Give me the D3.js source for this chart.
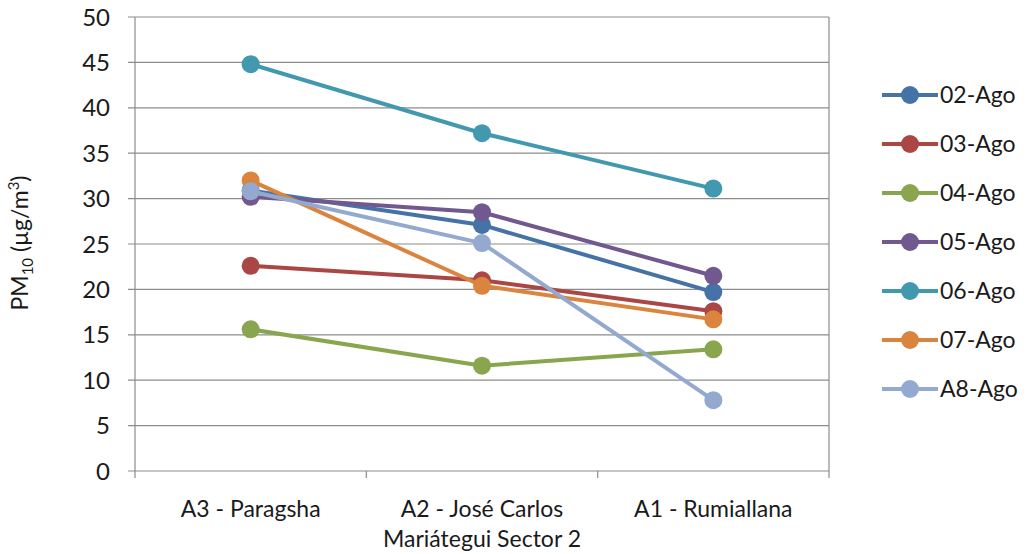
<!DOCTYPE html>
<html>
<head>
<meta charset="utf-8">
<script src="https://cdn.jsdelivr.net/npm/d3@7"></script>
<style>
  body { margin: 0; background: #fff; }
  text { font-family: Lato, "Open Sans", sans-serif; fill: #1a1a1a; }
</style>
</head>
<body>
<svg class="chart"></svg>
<script>
const sites = ['A3 - Paragsha', 'A2 - José Carlos Mariátegui Sector 2', 'A1 - Rumiallana'];
const siteLines = [['A3 - Paragsha'], ['A2 - José Carlos', 'Mariátegui Sector 2'], ['A1 - Rumiallana']];
const seriesNames = ['02-Ago', '03-Ago', '04-Ago', '05-Ago', '06-Ago', '07-Ago', 'A8-Ago'];
const seriesColors = ['#4572A7', '#AA4643', '#89A54E', '#71588F', '#4198AF', '#DB843D', '#93A9CF'];
const ago02 = [30.9, 27.1, 19.7];
const ago03 = [22.6, 21.0, 17.6];
const ago04 = [15.6, 11.6, 13.4];
const ago05 = [30.2, 28.5, 21.5];
const ago06 = [44.8, 37.2, 31.1];
const ago07 = [32.0, 20.4, 16.7];
const ago08 = [30.8, 25.1, 7.8];
const yTicks = [0, 5, 10, 15, 20, 25, 30, 35, 40, 45, 50];

const allValues = [ago02, ago03, ago04, ago05, ago06, ago07, ago08];
const data = seriesNames.map((name, i) => ({
  name: name,
  color: seriesColors[i],
  values: allValues[i].map((v, j) => ({site: sites[j], value: v}))
}));

const width = 1029;
const height = 554;
const margin = {top: 17, right: 200, bottom: 83, left: 135};
const plotW = 829 - margin.left;
const plotH = 471 - margin.top;

const chart = d3.select('.chart')
  .attr('width', width)
  .attr('height', height);

const g = chart.append('g').attr('transform', 'translate(' + margin.left + ',' + margin.top + ')');

const x = d3.scaleBand().domain(sites).range([0, plotW]);
const y = d3.scaleLinear().domain([0, 50]).range([plotH, 0]);

// gridlines
g.append('g')
  .selectAll('line')
  .data(yTicks)
  .join('line')
  .attr('x1', -7)
  .attr('x2', plotW)
  .attr('y1', d => y(d))
  .attr('y2', d => y(d))
  .attr('stroke', '#8c8c8c')
  .attr('stroke-width', 1.2);

// y tick labels
g.append('g')
  .selectAll('text')
  .data(yTicks)
  .join('text')
  .attr('x', -25)
  .attr('y', d => y(d))
  .attr('dy', '0.36em')
  .attr('text-anchor', 'end')
  .style('font-size', '24px')
  .text(d => d);

// left axis line and right border
g.append('line').attr('x1', 0).attr('x2', 0).attr('y1', 0).attr('y2', plotH + 7)
  .attr('stroke', '#8c8c8c').attr('stroke-width', 1.2);
g.append('line').attr('x1', plotW).attr('x2', plotW).attr('y1', 0).attr('y2', plotH + 7)
  .attr('stroke', '#8c8c8c').attr('stroke-width', 1.2);

// category ticks
g.append('g')
  .selectAll('line')
  .data(sites.slice(1))
  .join('line')
  .attr('x1', d => x(d))
  .attr('x2', d => x(d))
  .attr('y1', plotH)
  .attr('y2', plotH + 7)
  .attr('stroke', '#8c8c8c')
  .attr('stroke-width', 1.2);

// category labels
const catLabels = g.append('g')
  .selectAll('text')
  .data(sites)
  .join('text')
  .attr('x', d => x(d) + x.bandwidth() / 2)
  .attr('y', plotH + 46)
  .attr('text-anchor', 'middle')
  .style('font-size', '23px');
catLabels.each(function(d, i) {
  d3.select(this).selectAll('tspan')
    .data(siteLines[i])
    .join('tspan')
    .attr('x', x(d) + x.bandwidth() / 2)
    .attr('dy', (t, k) => k === 0 ? 0 : 30)
    .text(t => t);
});

// y axis title
const yTitle = chart.append('text')
  .attr('transform', 'translate(28,' + 243 + ') rotate(-90)')
  .attr('text-anchor', 'middle')
  .style('font-size', '23px');
yTitle.append('tspan').text('PM');
yTitle.append('tspan').attr('dy', 5).style('font-size', '15px').text('10');
yTitle.append('tspan').attr('dy', -5).text(' (µg/m');
yTitle.append('tspan').attr('dy', -9).style('font-size', '15px').text('3');
yTitle.append('tspan').attr('dy', 9).text(')');

const line = d3.line()
  .x(d => x(d.site) + x.bandwidth() / 2)
  .y(d => y(d.value));

const series = g.append('g')
  .selectAll('g')
  .data(data)
  .join('g');

series.append('path')
  .attr('d', d => line(d.values))
  .attr('fill', 'none')
  .attr('stroke', d => d.color)
  .attr('stroke-width', 4)
  .attr('stroke-linejoin', 'round');

series.selectAll('circle')
  .data(d => d.values.map(v => Object.assign({color: d.color}, v)))
  .join('circle')
  .attr('cx', d => x(d.site) + x.bandwidth() / 2)
  .attr('cy', d => y(d.value))
  .attr('r', 9)
  .attr('fill', d => d.color);

// legend
const legend = chart.append('g')
  .selectAll('g')
  .data(data)
  .join('g')
  .attr('transform', (d, i) => 'translate(882,' + (95 + i * 49) + ')');

legend.append('line')
  .attr('x1', 0).attr('x2', 56)
  .attr('stroke', d => d.color)
  .attr('stroke-width', 4);
legend.append('circle')
  .attr('cx', 28)
  .attr('r', 9)
  .attr('fill', d => d.color);
legend.append('text')
  .attr('x', 58)
  .attr('dy', '0.36em')
  .style('font-size', '23px')
  .text(d => d.name);
</script>
</body>
</html>
